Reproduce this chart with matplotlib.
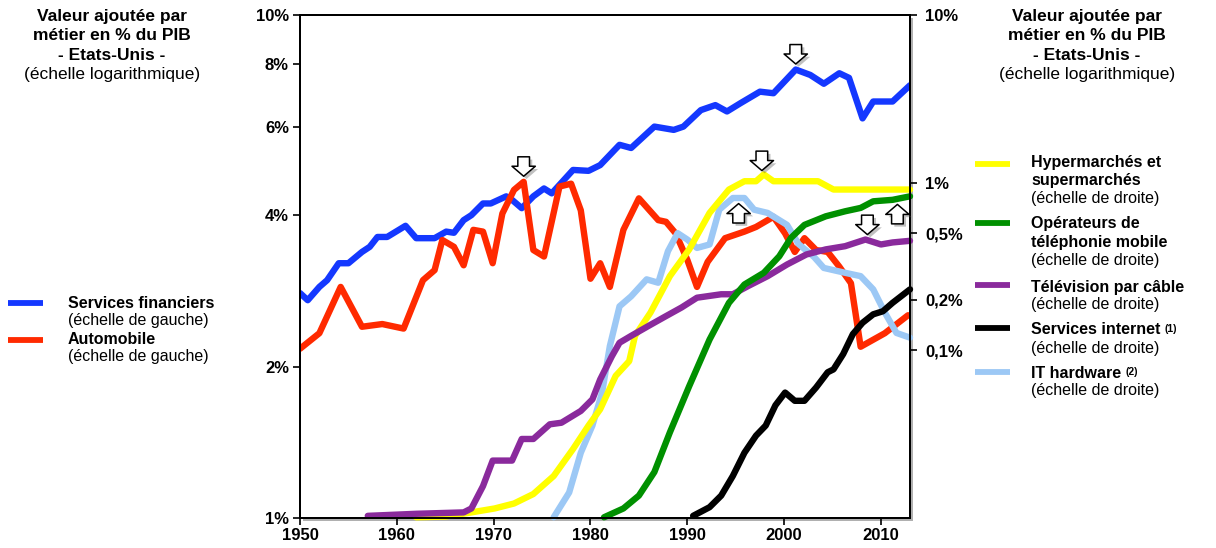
import numpy as np
import matplotlib
matplotlib.use("Agg")
import matplotlib.pyplot as plt
import matplotlib.patheffects as pe
from matplotlib.lines import Line2D
from matplotlib.patches import Rectangle
from matplotlib.ticker import NullLocator

# Services financiers (left scale, % of GDP)
fin_years = [1950, 1950.8, 1952, 1952.8, 1954, 1955, 1956.4, 1957.2, 1958, 1959, 1960.9, 1962,
             1963.9, 1965.1, 1965.9, 1966.9, 1967.7, 1968.9, 1969.7, 1971.3, 1971.9, 1972.9,
             1974.1, 1975.2, 1976, 1978.2, 1979.8, 1981, 1983, 1984.2, 1986.6, 1988.6, 1989.6,
             1991.4, 1992.9, 1994.1, 1995.5, 1997.5, 1998.9, 2001.2, 2002.7, 2004.1, 2005.7,
             2006.7, 2008.1, 2009.2, 2011.2, 2013]
fin_vals = [2.80, 2.71, 2.88, 2.97, 3.21, 3.21, 3.38, 3.46, 3.62, 3.62, 3.81, 3.60,
            3.60, 3.71, 3.69, 3.91, 4.00, 4.22, 4.22, 4.36, 4.29, 4.13,
            4.36, 4.52, 4.42, 4.92, 4.90, 5.03, 5.52, 5.44, 6.00, 5.91, 6.00,
            6.47, 6.62, 6.43, 6.68, 7.04, 6.99, 7.79, 7.60, 7.30, 7.66,
            7.50, 6.23, 6.73, 6.73, 7.25]

# Automobile (left scale)
auto_years = [1950, 1952, 1954.2, 1956.4, 1958.5, 1960.7, 1962.7, 1963.9, 1964.7, 1965.9, 1966.9,
              1967.9, 1968.9, 1969.9, 1970.9, 1972.1, 1973.1, 1974.1, 1975.2, 1976.8, 1978,
              1979, 1980, 1981, 1982, 1983.4, 1985, 1987, 1987.8, 1988.8, 1990, 1991, 1992.1,
              1993.9, 1995.9, 1997.1, 1998.9, 2000.1, 2001.1, 2002.1, 2003.3, 2004.5, 2005.7,
              2006.9, 2007.9, 2010.4, 2012.8]
auto_vals = [2.17, 2.33, 2.88, 2.40, 2.43, 2.38, 2.97, 3.11, 3.57, 3.46, 3.18,
             3.74, 3.71, 3.21, 4.03, 4.49, 4.66, 3.41, 3.31, 4.56, 4.62,
             4.09, 2.99, 3.21, 2.88, 3.74, 4.32, 3.91, 3.88, 3.68, 3.26, 2.88, 3.23,
             3.60, 3.71, 3.79, 3.97, 3.68, 3.38, 3.60, 3.41, 3.38, 3.16,
             2.93, 2.19, 2.33, 2.53]

# Hypermarchés et supermarchés (right scale)
hyper_years = [1962, 1965, 1967.7, 1970.1, 1972.1, 1974.1, 1976.2, 1978.2, 1979.8, 1981, 1982.6,
               1984, 1984.6, 1986.2, 1988.2, 1990.2, 1992.3, 1994.3, 1995.9, 1997.1, 1997.9,
               1998.9, 2003.5, 2005.1, 2013]
hyper_vals = [0.0101, 0.0102, 0.0108, 0.0114, 0.0122, 0.0139, 0.0178, 0.0258, 0.0356, 0.0445, 0.0704,
              0.0862, 0.122, 0.168, 0.277, 0.40, 0.66, 0.91, 1.02, 1.02, 1.12,
              1.02, 1.02, 0.91, 0.91]

# Opérateurs de téléphonie mobile (right scale)
mobile_years = [1981.4, 1983.4, 1985, 1986.6, 1988.2, 1990.2, 1992.3, 1994.3, 1995.9, 1997.9,
                1999.5, 2000.7, 2002.1, 2004.3, 2006.3, 2007.9, 2009.2, 2011.2, 2013]
mobile_vals = [0.0101, 0.0114, 0.0136, 0.0188, 0.0324, 0.0612, 0.116, 0.192, 0.247, 0.29,
               0.364, 0.468, 0.56, 0.63, 0.675, 0.707, 0.774, 0.79, 0.829]

# Télévision par câble (right scale)
cable_years = [1957, 1962.1, 1966.9, 1967.7, 1968.9, 1969.9, 1971.9, 1972.9, 1974.1, 1975.8, 1977,
               1979, 1980.2, 1981, 1982.2, 1983, 1984.2, 1986.2, 1987.8, 1989.4, 1991, 1993.5,
               1994.7, 1996.3, 1998.3, 2000.3, 2002.3, 2004.3, 2006.3, 2008.4, 2010, 2011.2, 2013]
cable_vals = [0.0103, 0.0106, 0.0108, 0.0114, 0.0155, 0.0220, 0.0220, 0.0296, 0.0296, 0.0362, 0.037,
              0.0435, 0.0510, 0.067, 0.092, 0.111, 0.122, 0.142, 0.16, 0.18, 0.206, 0.216,
              0.216, 0.242, 0.277, 0.325, 0.373, 0.40, 0.418, 0.458, 0.428, 0.44, 0.45]

# Services internet (right scale)
web_years = [1990.6, 1992.3, 1993.5, 1994.7, 1995.9, 1997.1, 1998.1, 1999.1, 2000.1, 2001.1, 2002.1,
             2003.3, 2004.5, 2005.1, 2006.1, 2007.1, 2008.1, 2009.2, 2010.2, 2011.2, 2013]
web_vals = [0.0103, 0.0116, 0.0136, 0.0178, 0.0245, 0.031, 0.0356, 0.047, 0.056, 0.050, 0.050,
            0.060, 0.074, 0.077, 0.095, 0.125, 0.146, 0.164, 0.171, 0.192, 0.231]

# IT hardware (right scale)
it_years = [1976.2, 1977.8, 1979, 1980.2, 1981.2, 1982, 1983, 1984.2, 1985.8, 1987, 1988, 1989,
            1990, 1991, 1992.3, 1993.3, 1994.7, 1995.9, 1996.9, 1998.3, 2000.3, 2001.5, 2003.1,
            2004.1, 2006.3, 2007.9, 2009.2, 2010.4, 2011.6, 2013]
it_vals = [0.0101, 0.0142, 0.0245, 0.0356, 0.056, 0.106, 0.183, 0.21, 0.265, 0.253, 0.39, 0.50,
           0.458, 0.408, 0.428, 0.69, 0.81, 0.81, 0.69, 0.66, 0.56, 0.43, 0.36,
           0.31, 0.29, 0.277, 0.231, 0.168, 0.127, 0.119]

left_ticks = [1, 2, 4, 6, 8, 10]
left_labels = ["1%", "2%", "4%", "6%", "8%", "10%"]
right_ticks = [0.1, 0.2, 0.5, 1, 10]
right_labels = ["0,1%", "0,2%", "0,5%", "1%", "10%"]
year_ticks = [1950, 1960, 1970, 1980, 1990, 2000, 2010]

plt.rcParams['font.family'] = ['Liberation Sans', 'DejaVu Sans']

W, H = 1216, 548
fig = plt.figure(figsize=(W / 100, H / 100), dpi=100)

# soft shadow behind the frame
fig.add_artist(Rectangle((303 / W, 27 / H), 610 / W, 503 / H, transform=fig.transFigure,
                         facecolor='#b0b0b0', edgecolor='none', zorder=0))

ax = fig.add_axes([300 / W, 30 / H, 610 / W, 503 / H])
ax2 = ax.twinx()

line_kw = dict(lw=4.6, solid_joinstyle='round', solid_capstyle='round')

ax.plot(fin_years, fin_vals, color='#1438ff', **line_kw)
ax.plot(auto_years, auto_vals, color='#ff2a00', **line_kw)

ax2.plot(it_years, it_vals, color='#9cc8f5', clip_on=False, **line_kw)
ax2.plot(hyper_years, hyper_vals, color='#ffff00', clip_on=False, **line_kw)
ax2.plot(cable_years, cable_vals, color='#8a2a9c', clip_on=False, **line_kw)
ax2.plot(mobile_years, mobile_vals, color='#009000', clip_on=False, **line_kw)
ax2.plot(web_years, web_vals, color='black', clip_on=False, **line_kw)

ax.set_xlim(1950, 2013)
ax.set_yscale('log')
ax.set_ylim(1, 10)
ax2.set_yscale('log')
ax2.set_ylim(0.01, 10)

ax.set_xticks(year_ticks)
ax.set_xticklabels([str(y) for y in year_ticks])
ax.set_yticks(left_ticks)
ax.set_yticklabels(left_labels)
ax.yaxis.set_minor_locator(NullLocator())
ax2.set_yticks(right_ticks)
ax2.set_yticklabels(right_labels)
ax2.yaxis.set_minor_locator(NullLocator())

for a in (ax, ax2):
    a.tick_params(direction='out', length=5, width=1.2, labelsize=12, pad=3)
    for lab in a.get_xticklabels() + a.get_yticklabels():
        lab.set_fontweight('bold')
    for s in a.spines.values():
        s.set_linewidth(1.4)
ax.tick_params(axis='x', pad=2)
ax2.tick_params(axis='y', pad=6)


def mark(axis, years, vals, year, direction):
    y = 10 ** np.interp(year, years, np.log10(vals))
    dy = 18 if direction == 'down' else -18
    axis.annotate('', xy=(year, y), xytext=(0, dy), textcoords='offset points',
                  annotation_clip=False,
                  arrowprops=dict(arrowstyle='simple,head_length=0.6,head_width=1.4,tail_width=0.7',
                                  mutation_scale=12, fc='white', ec='black', lw=1.1,
                                  shrinkA=0, shrinkB=4,
                                  path_effects=[pe.SimplePatchShadow(offset=(2, -2), alpha=0.35),
                                                pe.Normal()]))


mark(ax, auto_years, auto_vals, 1973.1, 'down')
mark(ax, fin_years, fin_vals, 2001.2, 'down')
mark(ax2, hyper_years, hyper_vals, 1997.7, 'down')
mark(ax2, it_years, it_vals, 1995.3, 'up')
mark(ax2, cable_years, cable_vals, 2008.6, 'down')
mark(ax2, mobile_years, mobile_vals, 2011.7, 'up')


def ftext(x, y, s, **kw):
    return fig.text(x / W, 1 - y / H, s, va='center', **kw)


# titles on both sides
for cx in (112, 1087):
    ftext(cx, 17, "Valeur ajoutée par", ha='center', fontsize=12.5, fontweight='bold')
    ftext(cx, 36, "métier en % du PIB", ha='center', fontsize=12.5, fontweight='bold')
    ftext(cx, 55, "- Etats-Unis -", ha='center', fontsize=12.5, fontweight='bold')
    ftext(cx, 74, "(échelle logarithmique)", ha='center', fontsize=12.5)


def legend_line(x0, x1, y, color):
    fig.add_artist(Line2D([x0 / W, x1 / W], [1 - y / H, 1 - y / H], transform=fig.transFigure,
                          color=color, lw=4.2, solid_capstyle='butt'))


def superscript(txt, s):
    ax.annotate(s, xy=(1, 1), xycoords=txt, xytext=(3, -1), textcoords='offset points',
                va='top', ha='left', fontsize=7.5, fontweight='bold', annotation_clip=False)


# left legend
legend_line(8, 43, 303, '#1438ff')
ftext(68, 303, "Services financiers", ha='left', fontsize=11.5, fontweight='bold')
ftext(68, 321, "(échelle de gauche)", ha='left', fontsize=11.5)
legend_line(8, 43, 340, '#ff2a00')
ftext(68, 339, "Automobile", ha='left', fontsize=11.5, fontweight='bold')
ftext(68, 357, "(échelle de gauche)", ha='left', fontsize=11.5)

# right legend
lx = 1031
legend_line(975, 1010, 164, '#ffff00')
ftext(lx, 163, "Hypermarchés et", ha='left', fontsize=11.5, fontweight='bold')
ftext(lx, 181, "supermarchés", ha='left', fontsize=11.5, fontweight='bold')
ftext(lx, 199, "(échelle de droite)", ha='left', fontsize=11.5)

legend_line(975, 1010, 223, '#009000')
ftext(lx, 224, "Opérateurs de", ha='left', fontsize=11.5, fontweight='bold')
ftext(lx, 242, "téléphonie mobile", ha='left', fontsize=11.5, fontweight='bold')
ftext(lx, 260, "(échelle de droite)", ha='left', fontsize=11.5)

legend_line(975, 1010, 285, '#8a2a9c')
ftext(lx, 287, "Télévision par câble", ha='left', fontsize=11.5, fontweight='bold')
ftext(lx, 305, "(échelle de droite)", ha='left', fontsize=11.5)

legend_line(975, 1010, 328, 'black')
t1 = ftext(lx, 330, "Services internet", ha='left', fontsize=11.5, fontweight='bold')
superscript(t1, "(1)")
ftext(lx, 348, "(échelle de droite)", ha='left', fontsize=11.5)

legend_line(975, 1010, 372, '#9cc8f5')
t2 = ftext(lx, 373, "IT hardware", ha='left', fontsize=11.5, fontweight='bold')
superscript(t2, "(2)")
ftext(lx, 391, "(échelle de droite)", ha='left', fontsize=11.5)

fig.savefig("out.png", dpi=100, facecolor='white')
